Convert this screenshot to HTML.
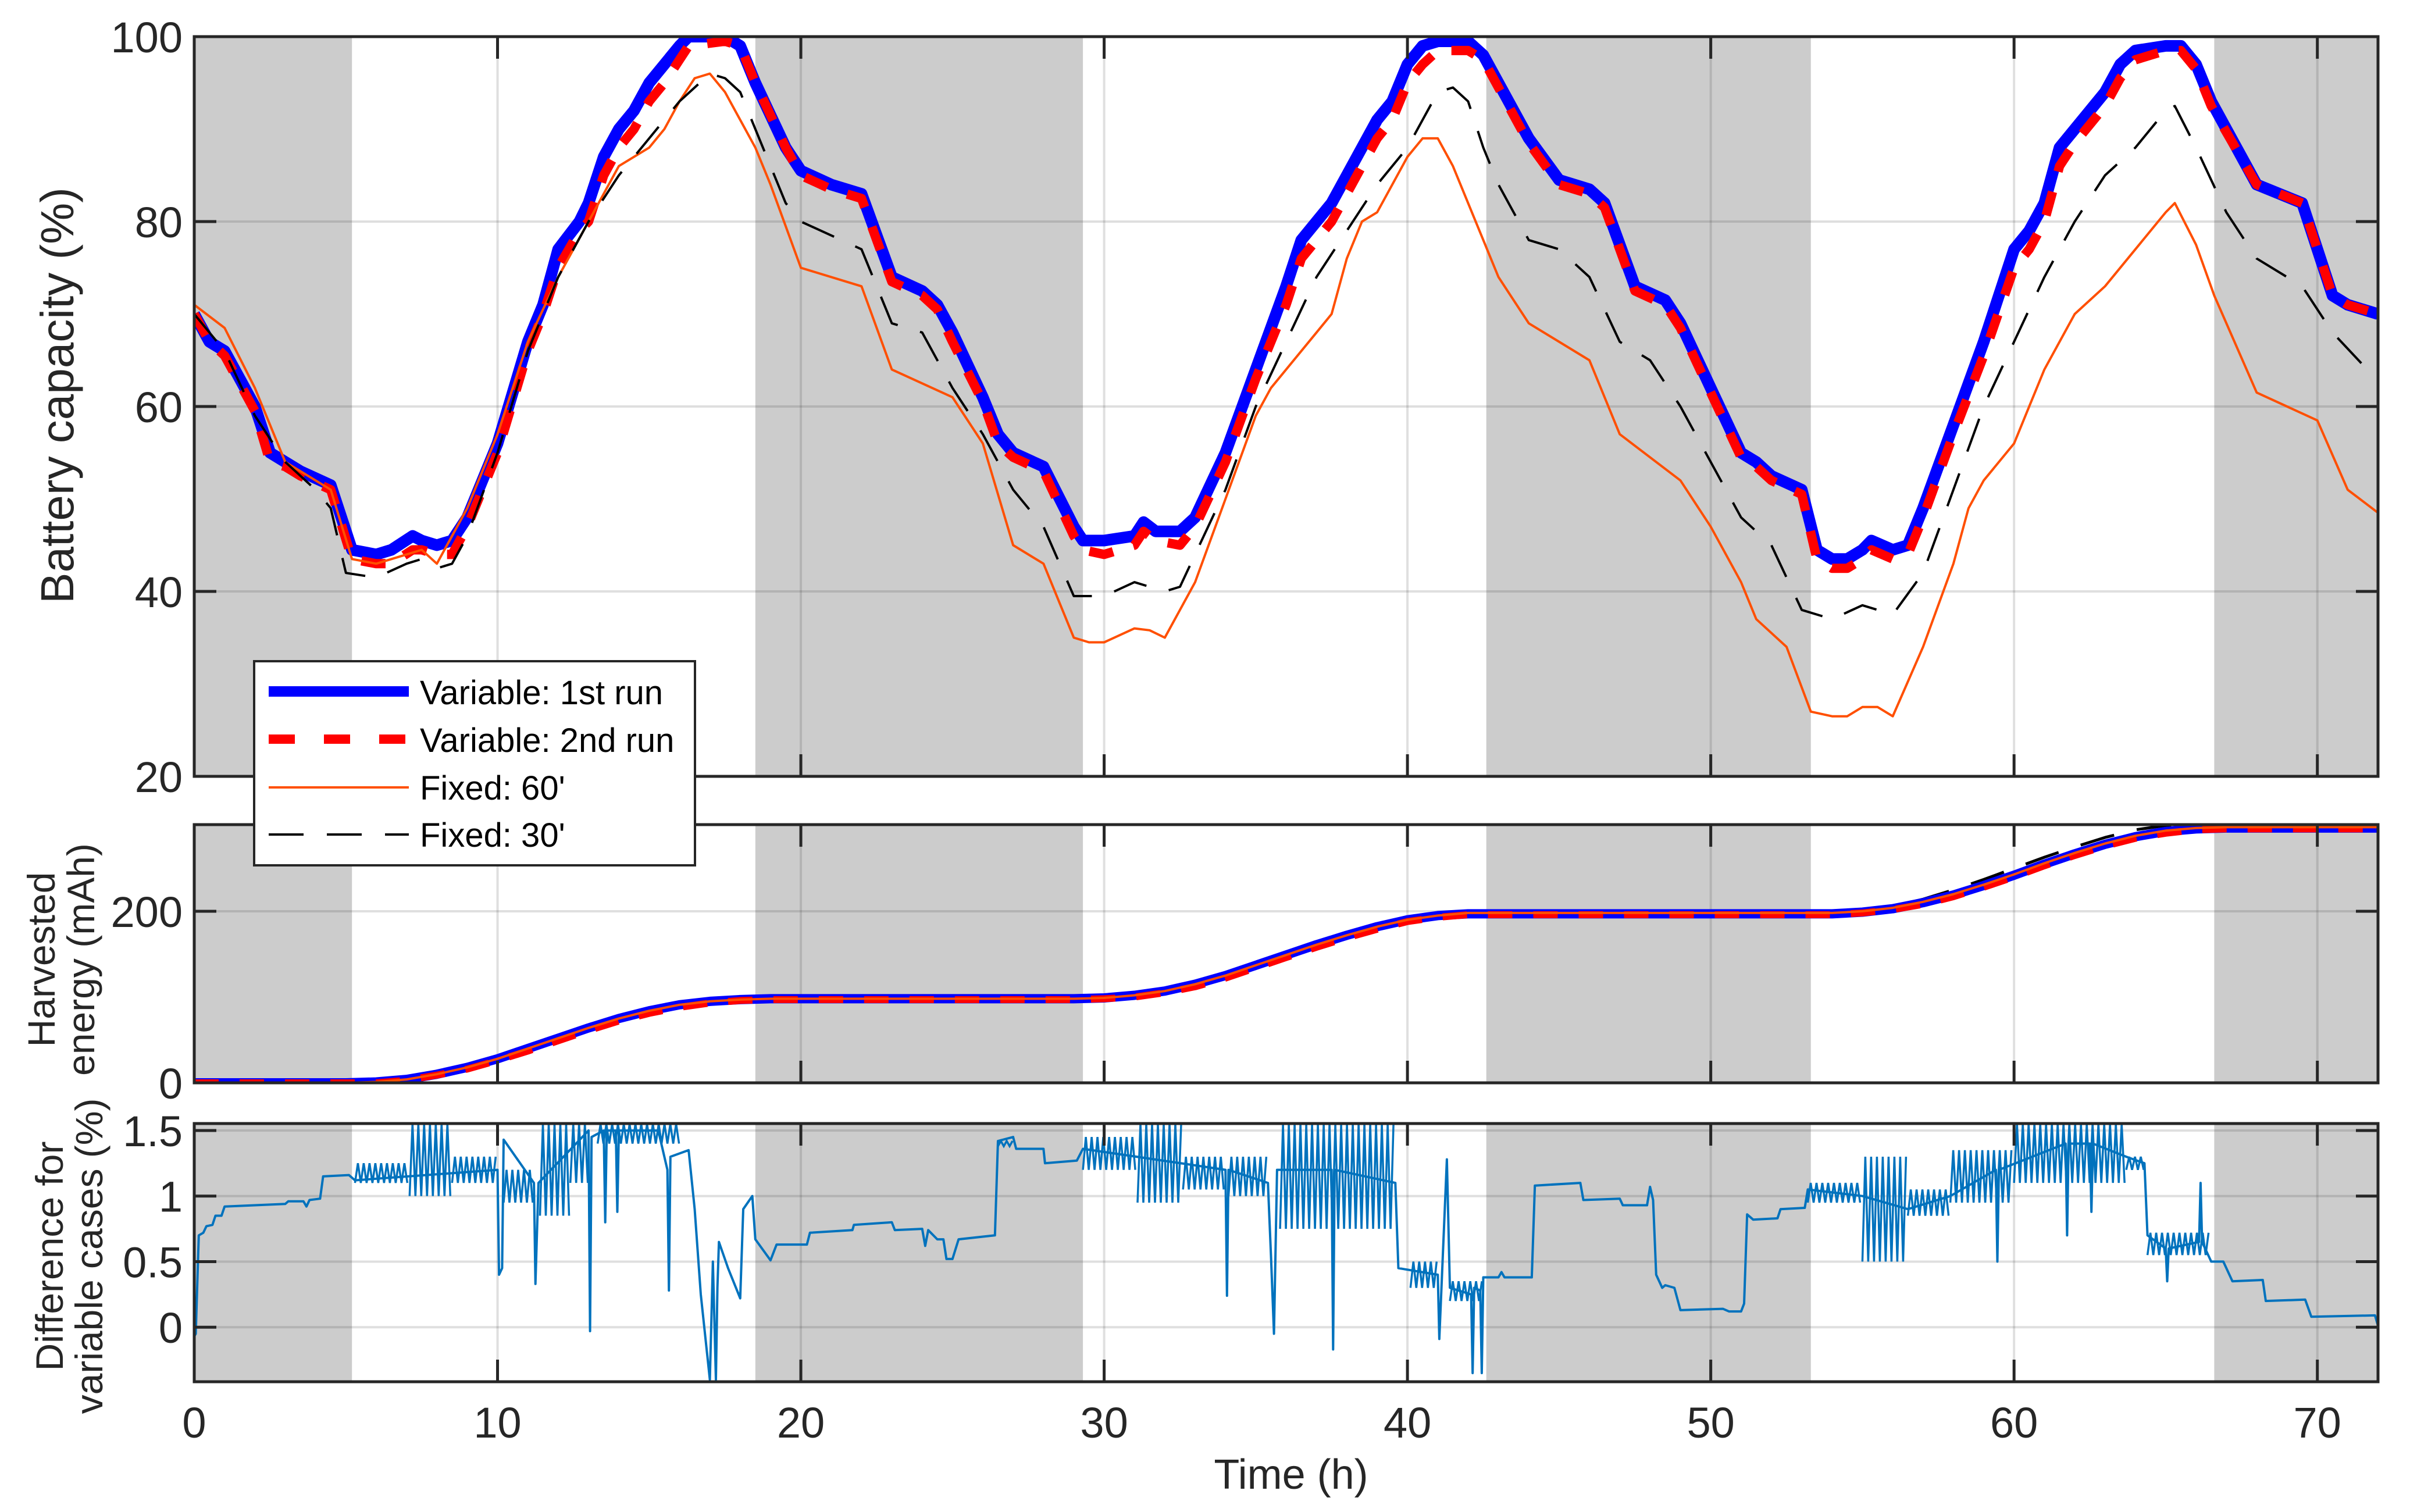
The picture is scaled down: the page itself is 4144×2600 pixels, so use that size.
<!DOCTYPE html>
<html><head><meta charset="utf-8"><style>
html,body{margin:0;padding:0;background:#fff;}
svg{display:block;font-family:"Liberation Sans",Arial,sans-serif;}
</style></head><body>
<svg id="fig" width="4144" height="2600" viewBox="0 0 4144 2600" xmlns="http://www.w3.org/2000/svg">
<g id="p1"></g>
<g id="p2"></g>
<g id="p3"></g>
<text transform="translate(126,680) rotate(-90)" text-anchor="middle" font-size="80" fill="#262626">Battery capacity (%)</text>
<text transform="translate(94,1650) rotate(-90)" text-anchor="middle" font-size="66" fill="#262626">Harvested</text>
<text transform="translate(162,1650) rotate(-90)" text-anchor="middle" font-size="66" fill="#262626">energy (mAh)</text>
<text transform="translate(108,2160) rotate(-90)" text-anchor="middle" font-size="66" fill="#262626">Difference for</text>
<text transform="translate(176,2160) rotate(-90)" text-anchor="middle" font-size="66" fill="#262626">variable cases (%)</text>
<text x="2220" y="2560" text-anchor="middle" font-size="72" fill="#262626">Time (h)</text>
<g id="legend">
<rect x="437" y="1137" width="758" height="351" fill="#fff" stroke="#262626" stroke-width="4"/>
<line x1="462" y1="1189" x2="703" y2="1189" stroke="#0000ff" stroke-width="18"/>
<line x1="462" y1="1271" x2="703" y2="1271" stroke="#ff0000" stroke-width="16" stroke-dasharray="45,50"/>
<line x1="462" y1="1354" x2="703" y2="1354" stroke="#ff4f00" stroke-width="4"/>
<line x1="462" y1="1435" x2="703" y2="1435" stroke="#000" stroke-width="4" stroke-dasharray="60,40"/>
<text x="722" y="1211" font-size="58" fill="#000">Variable: 1st run</text>
<text x="722" y="1293" font-size="58" fill="#000">Variable: 2nd run</text>
<text x="722" y="1375" font-size="58" fill="#000">Fixed: 60'</text>
<text x="722" y="1456" font-size="58" fill="#000">Fixed: 30'</text>
</g>
</svg>
<script>
// ---- data ----
const nightStart = [0, 18.5, 42.6, 66.6];
const nightEnd = [5.2, 29.3, 53.3, 72];
const xTicks = [0,10,20,30,40,50,60,70];
const battTicks = [20,40,60,80,100];
const harvTicks = [0,200];
const diffTicks = [0,0.5,1,1.5];
const diffTickLabels = ["0","0.5","1","1.5"];

const blueT = [0,0.5,1,2,2.5,3,3.5,4.5,5.2,6,6.5,7.2,7.5,8,8.5,9,10,11,11.5,12,12.7,13,13.5,14,14.5,15,15.5,16,16.3,17.5,18,18.5,19.5,20,21,22,23,24,24.5,25,26,26.5,27,28,29,29.3,30,31,31.3,31.7,32.5,33,34,35,36,36.5,37.5,38,38.5,39,39.5,40,40.5,41,42,42.5,43,44,45,46,46.5,47.5,48.5,49,50,51,51.5,52,53,53.5,54,54.5,55,55.3,56,56.5,57,58,59,60,60.5,61,61.5,62,63,63.5,64,65,65.5,66,66.5,68,69.5,70.5,71,72];
const blueV = [70,67,66,60,55,54,53,51.5,44.5,44,44.5,46,45.5,45,45.5,48,56,67,71,77,80,82,87,90,92,95,97,99,100,100,99,95,88,85.5,84,83,74,72.5,71,68,61,57,55,53.5,47,45.5,45.5,46,47.5,46.5,46.5,48,55,64,73,78,82,85,88,91,93,97,99,99.5,99.5,98,95,89,84.5,83.5,82,73,71.5,69,62,55,54,52.5,51,44.5,43.5,43.5,44.5,45.5,44.5,45,49,58,67,77,79,82,88,90,94,97,98.5,99,99,97,93,84,82,72,71,70];
const redT = blueT;
const redV = [70,67,65.5,59.5,54,53.5,52.5,51,43.5,43,43,44.5,44.5,44,44,47,55,66,70,75,79,80,85,88,90,93,95,97.5,99,99.5,99,95,88,85,83.5,82.5,73.5,72,70.5,67,60.5,56,54.5,53,46,44.5,44,45,46.5,45.5,45,47,54,63,71,76,80,83,86,89,91,95,97,98.5,98.5,97.5,94.5,88.5,84,83,81.5,72.5,71,68.5,61.5,54.5,53.5,52,50.5,43.5,42.5,42.5,43.5,44.5,43.5,44,48,57,65.5,75,77,80,86,88.5,92.5,95.5,97.5,98.5,98.5,96.5,92.5,84,82,72,71,70];
const orangeT = [0,1,2,2.5,3,4.5,5.2,6,7,7.5,8,9,10,11,12,13,14,15,15.5,16,16.5,17,17.5,18.5,19,20,22,23,25,26,27,28,29,29.5,30,31,31.5,32,33,34,35,35.5,37,37.5,38,38.5,39,40,40.5,41,41.5,42.5,43,44,46,47,49,50,51,51.5,52.5,53.3,54,54.5,55,55.5,56,57,58,58.5,59,60,60.5,61,62,63,64,65,65.3,66,66.6,68,70,71,72];
const orangeV = [71,68.5,62,58,54,51,43.5,43,44,44.5,43,49,57,67,74,80,86,88,90,93,95.5,96,94,88,84,75,73,64,61,56,45,43,35,34.5,34.5,36,35.8,35,41,50,59,62,68,70,76,80,81,87,89,89,86,78,74,69,65,57,52,47,41,37,34,27,26.5,26.5,27.5,27.5,26.5,34,43,49,52,56,60,64,70,73,77,81,82,77.5,72,61.5,58.5,51,48.5];
const blackT = [0,1,2,3,4,4.5,5,6,7,7.5,8,8.5,9,10,11,12,13,14,15,16,17,17.5,18,18.5,19.5,20,22,23,24,25,26,27,28,29,30,31,32,32.5,33,34,35,36,37,38,39,40,40.5,41,41.5,42,42.5,43,44,45,46,47,48,49,50,51,52,53,54,55,56,57,58,59,60,61,62,63,64,65,65.3,66,67,68,69.5,70.5,71.5];
const blackV = [70,66,59,54,51,49,42,41.5,43,43.5,42.5,43,46,55,66,74,80,85,89,93,96,95.5,94,90,82,80,77,69,68,62,57,51,47,39.5,39.5,41,40,40.5,44,51,60,67,74,79,84,88,91,94,94.5,93,88,84,78,77,74,67,65,60,54,48,45,38,37,38.5,37.5,42,51,60,67,74,80,85,88,92,92.5,88,81,76,73,68,64.5];

const hourT = Array.from({length:73},(_,i)=>i);
const harvBlue = [0,0,0,0,0,0,1,4,10,18,28,40,52,64,75,84,91,95,97,98,98,98,98,98,98,98,98,98,98,98,99,102,107,115,125,137,149,161,172,182,190,195,197,197,197,197,197,197,197,197,197,197,197,197,197,199,203,210,219,230,242,255,267,278,287,293,296,297,297,297,297,297,297];
const harvRed = [0,0,0,0,0,0,0,3,9,16,26,37,49,61,72,81,88,93,96,97,97,97,97,97,97,97,97,97,97,97,98,100,105,112,122,134,146,158,169,179,188,193,196,196,196,196,196,196,196,196,196,196,196,196,196,198,202,208,217,228,240,253,265,276,285,291,295,296,296,296,296,296,296];
const harvOrange = [0,0,0,0,0,0,1,4,10,18,28,40,52,64,75,84,91,95,97,98,98,98,98,98,98,98,98,98,98,98,99,102,107,115,125,137,149,161,172,182,190,195,198,198,198,198,198,198,198,198,198,198,198,198,198,200,204,211,220,231,243,256,268,279,288,294,297,298,298,298,298,298,298];
const harvBlack = [0,0,0,0,0,0,1,4,11,19,30,42,54,66,77,86,92,96,98,99,99,99,99,99,99,99,99,99,99,99,100,103,109,117,128,140,152,164,175,185,192,197,200,200,200,200,200,200,200,200,200,200,200,200,200,201,206,214,225,237,250,263,275,286,295,300,302,302,302,302,302,302,302];

const diffT = [
 0,0.05,0.15,0.3,0.4,0.6,0.7,0.9,1.0,3.0,
 3.1,3.6,3.7,3.8,4.15,4.25,5.1,5.3,10.0,10.05,
 10.15,10.2,11.2,11.25,11.35,13.0,13.05,13.1,13.5,13.55,
 13.6,13.9,13.95,14.0,15.3,15.6,15.65,15.7,16.3,16.5,
 16.7,17.0,17.1,17.2,17.25,17.3,17.6,18.0,18.1,18.4,
 18.5,19.0,19.2,20.2,20.3,21.7,21.75,23.0,23.1,24.0,
 24.1,24.2,24.5,24.7,24.8,25.0,25.2,26.4,26.5,27.0,
 27.1,28.0,28.05,29.1,29.3,34.0,34.05,34.1,35.4,35.5,
 35.6,35.7,37.5,37.55,37.6,39.6,39.7,41.0,41.05,41.3,
 41.4,42.1,42.15,42.2,42.4,42.45,42.5,43.0,43.1,43.2,
 44.1,44.2,45.7,45.8,47.0,47.1,47.9,48.0,48.1,48.2,
 48.4,48.5,48.8,49.0,50.4,50.6,51.0,51.1,51.2,51.4,
 52.2,52.3,53.1,53.2,55.0,56.5,57.9,59.4,59.45,59.5,
 61.7,61.75,61.8,62.5,62.55,62.6,63.7,64.3,64.4,65.0,
 65.05,65.1,66.1,66.15,66.2,66.5,66.9,67.2,68.2,68.3,
 69.6,69.8,71.9,72];
const diffV = [
 -0.07,-0.05,0.7,0.72,0.77,0.78,0.85,0.85,0.92,0.94,
 0.96,0.96,0.92,0.97,0.98,1.15,1.16,1.12,1.2,0.4,
 0.45,1.43,1.1,0.33,1.1,1.5,-0.03,1.45,1.5,0.8,
 1.5,1.5,0.88,1.5,1.5,1.2,0.28,1.3,1.35,0.9,
 0.25,-0.4,0.5,-0.4,0.3,0.65,0.45,0.22,0.9,1.0,
 0.67,0.51,0.63,0.63,0.72,0.74,0.78,0.8,0.74,0.75,
 0.62,0.74,0.67,0.67,0.52,0.52,0.67,0.7,1.42,1.45,
 1.36,1.36,1.25,1.27,1.36,1.2,0.24,1.2,1.1,0.55,
 -0.05,1.2,1.2,-0.17,1.2,1.1,0.45,0.4,-0.09,1.28,
 0.3,0.25,-0.35,0.3,0.28,-0.35,0.38,0.38,0.42,0.38,
 0.38,1.08,1.1,0.97,0.98,0.93,0.93,1.07,0.97,0.4,
 0.3,0.32,0.3,0.13,0.14,0.12,0.12,0.18,0.86,0.82,
 0.83,0.9,0.91,1.05,1.0,0.9,1.0,1.2,0.5,1.2,
 1.4,0.7,1.4,1.4,0.88,1.4,1.3,1.25,0.7,0.6,
 0.35,0.6,0.65,1.1,0.65,0.5,0.5,0.35,0.36,0.2,
 0.21,0.08,0.09,0.01];
// oscillation bands (t0, t1, low, high)
const bandT0 = [5.3,7.1,8.5,10.2,11.4,12.4,13.3,35.8,40.1,41.4,53.2,55.0,56.5,57.9,60.0,63.7,64.4,26.5,29.3,31.1,32.6,34.1];
const bandT1 = [7.1,8.5,10.0,11.2,12.4,13.0,16.0,39.6,41.0,42.5,55.0,56.5,57.9,60.0,63.7,64.3,66.5,27.0,31.1,32.6,34.0,35.4];
const bandLo = [1.1,1.0,1.1,0.95,0.85,1.1,1.4,0.75,0.3,0.2,0.95,0.5,0.85,0.95,1.1,1.2,0.55,1.38,1.2,0.95,1.05,1.0];
const bandHi = [1.25,1.55,1.3,1.2,1.55,1.55,1.55,1.55,0.5,0.35,1.1,1.3,1.05,1.35,1.55,1.3,0.72,1.42,1.45,1.55,1.3,1.3];

// ---- layout ----
const NS = "http://www.w3.org/2000/svg";
const XL = 334, XR = 4089;
const P = {
  p1:{top:63,bot:1335,min:20,max:100},
  p2:{top:1418,bot:1862,min:0,max:301},
  p3:{top:1932,bot:2376,min:-0.416,max:1.553}
};
function sx(t){return XL + (t/72)*(XR-XL);}
function syFor(p){return v => p.bot - (v-p.min)/(p.max-p.min)*(p.bot-p.top);}
function mk(tag, attrs, parent){const e=document.createElementNS(NS,tag);for(const k in attrs)e.setAttribute(k,attrs[k]);parent.appendChild(e);return e;}
function pathFrom(ts, vs, sy){let d="";const n=Math.min(ts.length,vs.length);for(let i=0;i<n;i++){d+=(i?"L":"M")+sx(ts[i]).toFixed(1)+","+sy(vs[i]).toFixed(1);}return d;}

function drawFrame(id, p, yTicks, yLabels, showX){
  const g=document.getElementById(id); const sy=syFor(p);
  const clipId="clip-"+id;
  const defs=mk("defs",{},g); const cp=mk("clipPath",{id:clipId},defs);
  mk("rect",{x:XL,y:p.top,width:XR-XL,height:p.bot-p.top},cp);
  for(let i=0;i<nightStart.length;i++){
    const r=mk("rect",{x:sx(nightStart[i]),y:p.top,width:sx(nightEnd[i])-sx(nightStart[i]),height:p.bot-p.top,fill:"#cccccc"},g);
    
    
  }
  xTicks.forEach(t=>{ if(t===0) return;
    const l=mk("line",{x1:sx(t),x2:sx(t),y1:p.top,y2:p.bot,stroke:"rgba(38,38,38,0.15)","stroke-width":4},g);
    
    
  });
  yTicks.forEach(v=>{ if(v===p.min) return;
    const l=mk("line",{x1:XL,x2:XR,y1:sy(v),y2:sy(v),stroke:"rgba(38,38,38,0.15)","stroke-width":4},g);
    
    
  });
  const plot=mk("g",{"clip-path":"url(#"+clipId+")"},g);
  return {g,plot,sy,finish:function(){
    const b=mk("rect",{x:XL,y:p.top,width:XR-XL,height:p.bot-p.top,fill:"none",stroke:"#262626","stroke-width":5},g);
    
    
    xTicks.forEach(t=>{
      mk("line",{x1:sx(t),x2:sx(t),y1:p.bot,y2:p.bot-38,stroke:"#262626","stroke-width":5},g);
      mk("line",{x1:sx(t),x2:sx(t),y1:p.top,y2:p.top+38,stroke:"#262626","stroke-width":5},g);
      if(showX){
        const tx=mk("text",{x:sx(t),y:p.bot+96,"text-anchor":"middle","font-size":74,fill:"#262626"},g);
        tx.textContent=String(t);
        
        
      }
    });
    yTicks.forEach((v,i)=>{
      mk("line",{x1:XL,x2:XL+38,y1:sy(v),y2:sy(v),stroke:"#262626","stroke-width":5},g);
      mk("line",{x1:XR,x2:XR-38,y1:sy(v),y2:sy(v),stroke:"#262626","stroke-width":5},g);
      const tx=mk("text",{x:XL-20,y:sy(v)+27,"text-anchor":"end","font-size":74,fill:"#262626"},g);
      tx.textContent=yLabels[i];
      
      
    });
  }};
}

function series(plot, ts, vs, sy, style, name){
  const e=mk("path",Object.assign({d:pathFrom(ts,vs,sy),fill:"none","stroke-linejoin":"round"},style),plot);
  
  
  return e;
}

// Panel 1
const f1=drawFrame("p1",P.p1,battTicks,battTicks.map(String),false);
series(f1.plot,blueT,blueV,f1.sy,{stroke:"#0000ff","stroke-width":20},"series-variable-1st-run");
series(f1.plot,redT,redV,f1.sy,{stroke:"#ff0000","stroke-width":16,"stroke-dasharray":"42,36"},"series-variable-2nd-run");
series(f1.plot,orangeT,orangeV,f1.sy,{stroke:"#ff4f00","stroke-width":4},"series-fixed-60");
series(f1.plot,blackT,blackV,f1.sy,{stroke:"#000","stroke-width":4,"stroke-dasharray":"60,40"},"series-fixed-30");
f1.finish();

// Panel 2
const f2=drawFrame("p2",P.p2,harvTicks,harvTicks.map(String),false);
series(f2.plot,hourT,harvBlack,f2.sy,{stroke:"#000","stroke-width":5,"stroke-dasharray":"60,40"},"harvest-fixed-30");
series(f2.plot,hourT,harvBlue,f2.sy,{stroke:"#0000ff","stroke-width":16},"harvest-variable-1st-run");
series(f2.plot,hourT,harvRed,f2.sy,{stroke:"#ff0000","stroke-width":12,"stroke-dasharray":"42,36"},"harvest-variable-2nd-run");
series(f2.plot,hourT,harvOrange,f2.sy,{stroke:"#ff4f00","stroke-width":4},"harvest-fixed-60");
f2.finish();

// Panel 3
const f3=drawFrame("p3",P.p3,diffTicks,diffTickLabels,true);
series(f3.plot,diffT,diffV,f3.sy,{stroke:"#0072bd","stroke-width":4},"series-difference");
for(let i=0;i<bandT0.length;i++){
  const x0=sx(bandT0[i]), x1=sx(bandT1[i]); const ylo=f3.sy(bandLo[i]), yhi=f3.sy(bandHi[i]);
  let d="M"+x0.toFixed(1)+","+ylo.toFixed(1); let up=true;
  for(let x=x0+5;x<=x1;x+=5){d+="L"+x.toFixed(1)+","+(up?yhi:ylo).toFixed(1);up=!up;}
  const e=mk("path",{d:d,fill:"none",stroke:"#0072bd","stroke-width":3.5},f3.plot);
  
  
}
f3.finish();
</script>
</body></html>
